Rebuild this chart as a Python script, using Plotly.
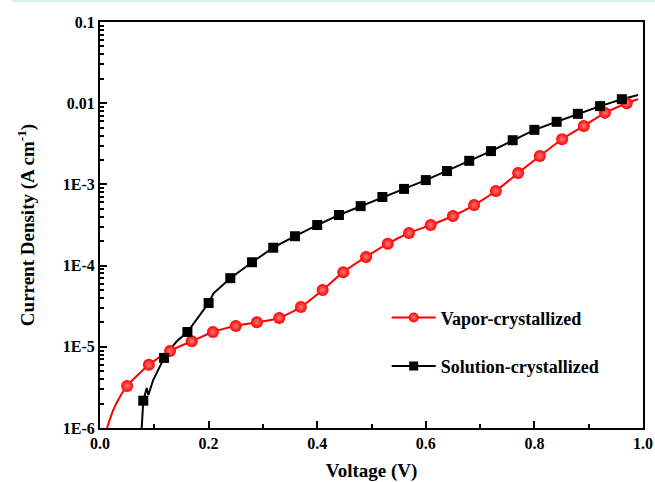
import plotly.graph_objects as go

# ---- data ----
# Vapor-crystallized: marker points
vap_v = [0.05, 0.09, 0.129, 0.169, 0.208, 0.25, 0.289, 0.33, 0.37, 0.41, 0.448, 0.49, 0.53,
         0.569, 0.609, 0.65, 0.689, 0.729, 0.77, 0.81, 0.851, 0.891, 0.93, 0.97]
vap_j = [3.3e-6, 6.0e-6, 8.9e-6, 1.17e-5, 1.52e-5, 1.8e-5, 2.0e-5, 2.26e-5, 3.1e-5, 5.0e-5,
         8.3e-5, 1.28e-4, 1.86e-4, 2.52e-4, 3.16e-4, 4.08e-4, 5.57e-4, 8.3e-4, 1.38e-3,
         2.24e-3, 3.6e-3, 5.25e-3, 7.6e-3, 1.0e-2]
# Vapor-crystallized: full curve
vap_line_v = [0.013, 0.0245, 0.0368] + vap_v + [0.991]
vap_line_j = [1.0e-6, 1.67e-6, 2.43e-6] + vap_j + [1.12e-2]

# Solution-crystallized: marker points
sol_v = [0.0797, 0.118, 0.161, 0.2, 0.24, 0.28, 0.319, 0.359, 0.4, 0.44, 0.48, 0.52, 0.56,
         0.6, 0.639, 0.68, 0.72, 0.76, 0.8, 0.841, 0.88, 0.921, 0.961]
sol_j = [2.17e-6, 7.3e-6, 1.52e-5, 3.46e-5, 7.0e-5, 1.1e-4, 1.66e-4, 2.3e-4, 3.16e-4, 4.2e-4,
         5.4e-4, 7.0e-4, 8.8e-4, 1.13e-3, 1.46e-3, 1.95e-3, 2.57e-3, 3.5e-3, 4.7e-3, 5.9e-3,
         7.4e-3, 9.2e-3, 1.12e-2]
# Solution-crystallized: full curve
sol_line_v = [0.0768, 0.0797, 0.086, 0.089, 0.098, 0.104, 0.118, 0.133, 0.141, 0.161, 0.2, 0.209] \
    + sol_v[4:] + [0.991]
sol_line_j = [1.0e-6, 2.17e-6, 3.11e-6, 2.55e-6, 3.9e-6, 4.75e-6, 7.3e-6, 1.0e-5, 1.16e-5,
              1.52e-5, 3.46e-5, 4.56e-5] + sol_j[4:] + [1.26e-2]

x_ticks = [0.0, 0.2, 0.4, 0.6, 0.8, 1.0]
x_tick_text = ["0.0", "0.2", "0.4", "0.6", "0.8", "1.0"]
y_ticks = [1e-6, 1e-5, 1e-4, 1e-3, 1e-2, 1e-1]
y_tick_text = ["1E-6", "1E-5", "1E-4", "1E-3", "0.01", "0.1"]

names = ["Vapor-crystallized", "Solution-crystallized"]

FONT = "Liberation Serif, Times New Roman, serif"
RED = "#ff0000"
HILITE = "#ff7a7a"

fig = go.Figure()

fig.add_trace(go.Scatter(x=vap_line_v, y=vap_line_j, mode="lines", line=dict(color=RED, width=2, shape="spline", smoothing=0.6),
                         showlegend=False, hoverinfo="skip"))
fig.add_trace(go.Scatter(x=sol_line_v, y=sol_line_j, mode="lines", line=dict(color="black", width=2),
                         showlegend=False, hoverinfo="skip"))
fig.add_trace(go.Scatter(x=vap_v, y=vap_j, mode="markers",
                         marker=dict(symbol="circle", size=12, color=RED, line=dict(width=0),
                                     gradient=dict(type="radial", color=HILITE)),
                         showlegend=False))
fig.add_trace(go.Scatter(x=sol_v, y=sol_j, mode="markers",
                         marker=dict(symbol="square", size=10, color="black", line=dict(width=0)),
                         showlegend=False))
# legend entries
fig.add_trace(go.Scatter(x=[None], y=[None], mode="lines+markers", name=names[0], legendgroup="a",
                         line=dict(color=RED, width=2),
                         marker=dict(symbol="circle", size=10, color=RED, line=dict(width=0),
                                     gradient=dict(type="radial", color=HILITE))))
fig.add_trace(go.Scatter(x=[None], y=[None], mode="lines+markers", name=names[1], legendgroup="b",
                         line=dict(color="black", width=2),
                         marker=dict(symbol="square", size=9, color="black", line=dict(width=0))))

axis_common = dict(showline=True, linecolor="black", linewidth=2, mirror=True, showgrid=False,
                   zeroline=False, ticks="inside", tickcolor="black", tickwidth=2, automargin=False,
                   tickfont=dict(family=FONT, size=16, color="black", weight="bold"))

fig.update_xaxes(range=[0, 1], tickvals=x_ticks, ticktext=x_tick_text, ticklen=7,
                 minor=dict(ticks="inside", dtick=0.1, ticklen=4, tickcolor="black", tickwidth=1.5),
                 title=dict(text="Voltage (V)", font=dict(family=FONT, size=19, color="black", weight="bold"),
                            standoff=16),
                 **axis_common)
fig.update_yaxes(type="log", range=[-6, -1], tickvals=y_ticks, ticktext=y_tick_text, ticklen=7,
                 minor=dict(ticks="inside", dtick="D1", ticklen=4, tickcolor="black", tickwidth=1.5),
                 title=dict(text="Current Density (A cm<sup>-1</sup>)",
                            font=dict(family=FONT, size=19, color="black", weight="bold"), standoff=23),
                 **axis_common)

fig.update_layout(
    width=655, height=482,
    margin=dict(l=100, r=12, t=22, b=54),
    plot_bgcolor="white", paper_bgcolor="white",
    legend=dict(x=0.528, y=0.317, xanchor="left", yanchor="top", traceorder="grouped",
                tracegroupgap=22, itemwidth=44, bgcolor="rgba(0,0,0,0)",
                font=dict(family=FONT, size=18, color="black", weight="bold")),
    shapes=[dict(type="rect", xref="paper", yref="paper", x0=-0.162, x1=1.03,
                 y0=1 + 20 / 406, y1=1 + 22 / 406, fillcolor="#dcefe4", line=dict(width=0), layer="below")],
)

fig.write_html("out.html", config={"displayModeBar": False},
               post_script="document.body.style.margin='0px';")
